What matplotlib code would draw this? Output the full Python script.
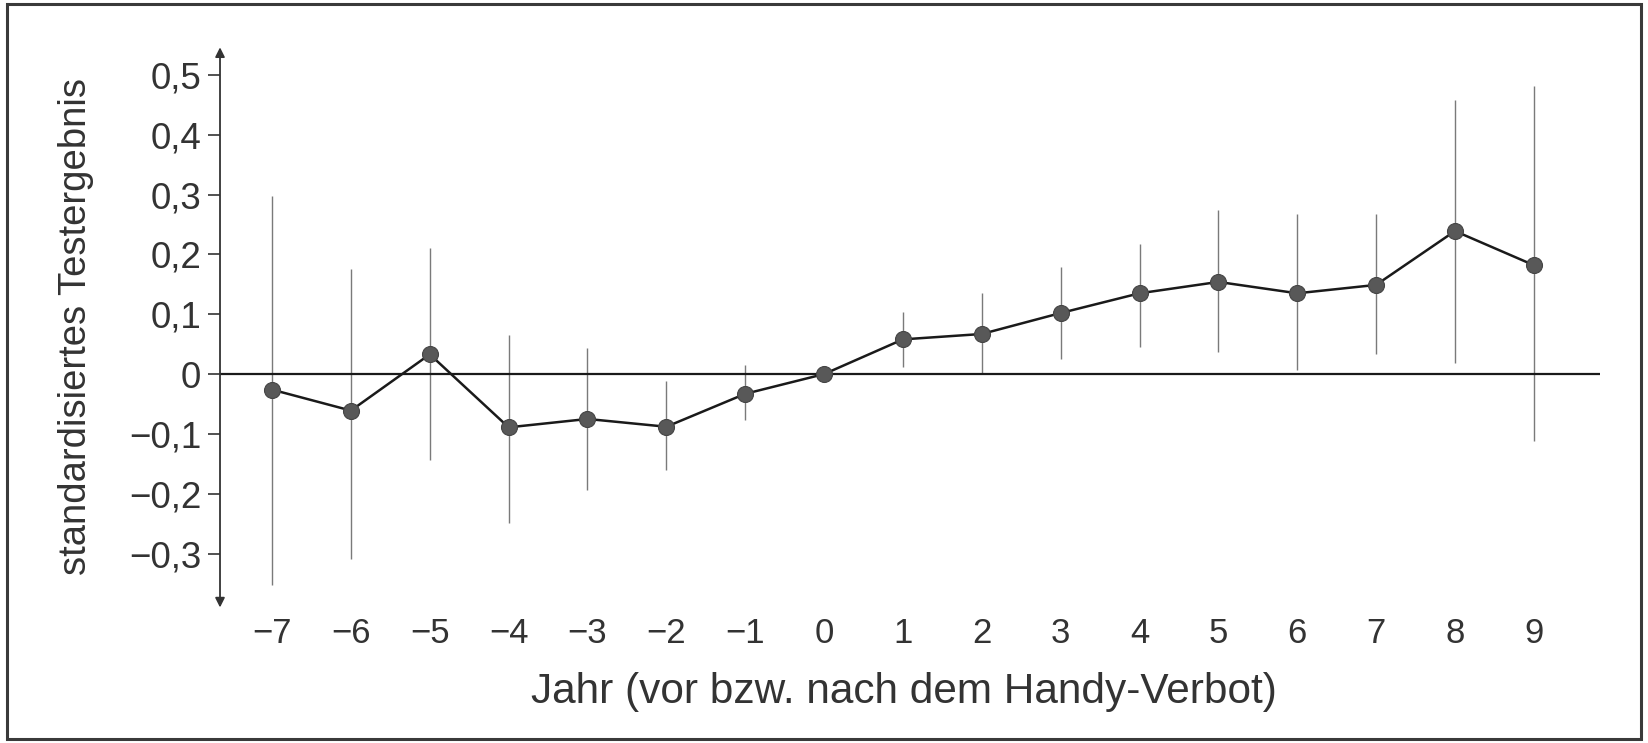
import matplotlib
matplotlib.use('Agg')
import matplotlib.pyplot as plt
from matplotlib.patches import Rectangle

# Jahr relativ zum Handy-Verbot
years = [-7, -6, -5, -4, -3, -2, -1, 0, 1, 2, 3, 4, 5, 6, 7, 8, 9]
# standardisiertes Testergebnis (Punktschaetzer)
effect = [-0.026, -0.061, 0.033, -0.089, -0.075, -0.088, -0.033, 0.0,
          0.058, 0.067, 0.102, 0.135, 0.154, 0.135, 0.149, 0.239, 0.182]
# Konfidenzintervalle (obere / untere Grenze), Referenzjahr 0 ohne Intervall
ci_upper = [0.298, 0.175, 0.210, 0.065, 0.044, -0.011, 0.016, 0.0,
            0.104, 0.135, 0.179, 0.218, 0.275, 0.267, 0.267, 0.458, 0.482]
ci_lower = [-0.353, -0.309, -0.144, -0.249, -0.193, -0.161, -0.077, 0.0,
            0.012, 0.000, 0.025, 0.046, 0.037, 0.007, 0.033, 0.018, -0.111]
y_ticks = [-0.3, -0.2, -0.1, 0, 0.1, 0.2, 0.3, 0.4, 0.5]
y_labels = ['\u22120,3', '\u22120,2', '\u22120,1', '0', '0,1', '0,2', '0,3', '0,4', '0,5']
x_labels = [str(y).replace('-', '\u2212') for y in years]

text_color = '#333333'
font = ['Liberation Sans', 'DejaVu Sans']

fig = plt.figure(figsize=(16.48, 7.43), dpi=100)
ax = fig.add_axes([0.1335, 0.1824, 0.8374, 0.7539])

# error bars
ax.vlines(years, ci_lower, ci_upper, color='#7a7a7a', linewidth=1.0, zorder=2)

# zero line
ax.axhline(0, color='#1a1a1a', linewidth=1.6, zorder=3)

# estimates
ax.plot(years, effect, color='#1a1a1a', linewidth=1.8, zorder=4,
        marker='o', markersize=11.5, markerfacecolor='#585858',
        markeredgecolor='#444444', markeredgewidth=0.8)

ax.set_xlim(-7.66, 9.84)
ax.set_ylim(-0.39, 0.546)

for s in ax.spines.values():
    s.set_visible(False)

# y axis with arrow heads at both ends
ax.annotate('', xy=(0, 1), xytext=(0, 0), xycoords='axes fraction',
            textcoords='axes fraction',
            arrowprops=dict(arrowstyle='<|-|>', color='#333333', lw=1.3,
                            mutation_scale=14, shrinkA=0, shrinkB=0))

ax.set_yticks(y_ticks)
ax.set_yticklabels(y_labels)
ax.set_xticks(years)
ax.set_xticklabels(x_labels)
ax.tick_params(axis='y', length=9, width=1.2, pad=4.5, color='#333333',
               labelcolor=text_color, labelsize=26.5)
ax.tick_params(axis='x', length=0, pad=7, labelcolor=text_color, labelsize=25)
for lab in ax.get_xticklabels() + ax.get_yticklabels():
    lab.set_family(font)

fig.text(0.5485, 0.068, 'Jahr (vor bzw. nach dem Handy-Verbot)', ha='center',
         va='center', fontsize=30.5, color=text_color, family=font)
fig.text(0.0461, 0.561, 'standardisiertes Testergebnis', rotation=90,
         ha='center', va='center', fontsize=27.5, color=text_color, family=font)

# frame around the figure
fig.patches.append(Rectangle((0.004, 0.006), 0.992, 0.988, transform=fig.transFigure,
                             fill=False, edgecolor='#3a3a3a', linewidth=2.2))

fig.savefig('out.png', dpi=100)
